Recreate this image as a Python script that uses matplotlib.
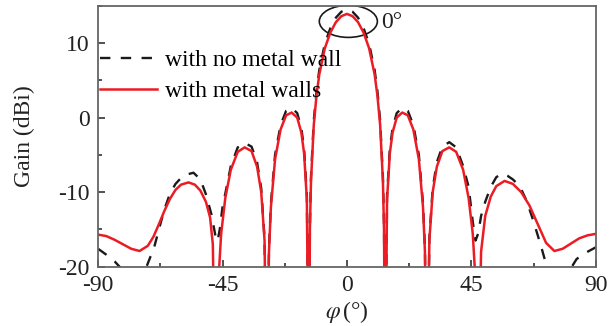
import matplotlib
matplotlib.use("Agg")
import matplotlib.pyplot as plt
from matplotlib.patches import Ellipse
from matplotlib.ticker import MultipleLocator

plt.rcParams['font.family'] = ['Liberation Serif', 'DejaVu Serif']
plt.rcParams['mathtext.fontset'] = 'stix'
plt.rcParams['axes.unicode_minus'] = False

# phi (deg) / gain (dBi); values below -20 are the nulls
phi_red = [-90, -87, -84, -81, -78, -75, -72, -70, -68, -66, -64, -62, -60, -57.3,
           -55, -53, -51, -49.5, -48.5, -47.6, -46.5, -45.5, -44, -42, -39.5, -37,
           -34.5, -32.5, -31, -29.8, -29.0, -28.2, -27.5, -26, -24, -22, -20, -18,
           -16.5, -15.5, -14.5, -13.8, -13.4, -13, -12, -11, -10, -8, -6, -4, -2, 0,
           2, 4, 6, 8, 10, 11, 12, 13, 13.4, 13.8, 14.5, 15.5, 16.5, 18, 20, 22, 24,
           26, 27.5, 28.2, 28.9, 29.8, 31, 32.5, 34.5, 37, 39.5, 42, 44, 45.5, 46.5,
           47.4, 48.5, 50, 52, 54, 57, 60, 63, 66, 69, 72, 75, 78, 81, 84, 87, 90]
gain_red = [-15.7, -15.9, -16.4, -17.0, -17.6, -17.9, -17.2, -16.0, -14.3, -12.5, -10.9,
            -9.7, -9.0, -8.7, -9.0, -9.8, -11.3, -13.4, -17.0, -40, -22.0, -15.6, -10.8,
            -7.0, -4.6, -4.0, -4.5, -6.6, -10.0, -16.5, -40, -18.0, -12.0, -5.6, -1.6,
            0.3, 0.67, 0.0, -2.0, -4.8, -11.0, -40, -15.0, -8.5, -1.0, 3.0, 5.8, 9.3,
            11.4, 12.8, 13.6, 13.9,
            13.6, 12.8, 11.4, 9.3, 5.8, 3.0, -1.0, -8.5, -15.0, -40, -11.0, -4.8, -2.0,
            0.0, 0.67, 0.3, -1.6, -5.6, -12.0, -18.0, -40, -16.5, -10.0, -6.6, -4.5,
            -4.0, -4.6, -7.0, -10.8, -15.6, -22.0, -40, -18.0, -13.2, -10.6, -9.2, -8.5,
            -8.9, -10.0, -11.8, -14.3, -16.8, -17.9, -17.6, -16.9, -16.2, -15.8, -15.6]

phi_black = [-90, -87, -84, -81, -78.5, -77, -75, -73, -71, -70, -68, -66, -64, -62, -60,
             -57.5, -55.5, -53, -51, -49, -47.5, -46.8, -46, -45, -44, -42, -39.5, -37,
             -34.5, -32.5, -31, -29.8, -29.0, -28.2, -27.5, -26, -24, -22, -20, -18,
             -16.5, -15.5, -14.5, -13.8, -13.4, -13, -12, -11, -10, -8, -6, -4, -2, 0,
             2, 4, 6, 8, 10, 11, 12, 13, 13.4, 13.8, 14.5, 15.5, 16.5, 18, 20, 22, 24,
             26, 27.5, 28.2, 28.9, 29.8, 31, 32.5, 34.5, 37, 39.5, 42, 44, 45.5, 46.5,
             47.5, 48.5, 50, 52, 54, 56, 58, 60, 62.5, 65, 67, 69, 70.6, 72.5, 75, 77,
             79, 81, 83, 85, 87.5, 90]
gain_black = [-17.6, -18.4, -19.3, -20.5, -26, -30, -24, -20.5, -18.6, -17.8, -15.0,
              -12.3, -10.2, -8.9, -8.1, -7.6, -7.4, -8.3, -10.3, -13.0, -16.0, -16.6,
              -15.0, -12.0, -10.2, -6.5, -4.0, -3.4, -3.9, -6.0, -9.5, -16.2, -40,
              -17.5, -11.5, -5.0, -1.0, 0.9, 1.3, 0.6, -1.4, -4.2, -10.4, -40, -14.4,
              -7.9, -0.4, 3.6, 6.4, 9.9, 12.0, 13.4, 14.2, 14.5,
              14.2, 13.4, 12.0, 9.9, 6.4, 3.6, -0.4, -7.9, -14.4, -40, -10.4, -4.2,
              -1.4, 0.6, 1.3, 0.9, -1.0, -5.0, -11.5, -17.5, -40, -16.2, -9.5, -6.0,
              -3.9, -3.3, -4.0, -6.5, -9.3, -14.0, -16.5, -15.5, -13.2, -11.3, -9.3,
              -8.0, -7.5, -7.8, -8.3, -9.2, -11.2, -13.4, -15.8, -17.8, -20.3, -25, -30,
              -24, -20.2, -19.0, -18.4, -17.9, -17.4]

fig = plt.figure(figsize=(6.13, 3.26), dpi=100)
ax = fig.add_axes([0.160, 0.182, 0.812, 0.8005])

ax.plot(phi_black, gain_black, color='#1a1a1a', lw=1.7, ls=(0, (4.4, 4.4)),
        label='with no metal wall')
ax.plot(phi_red, gain_red, color='#ec1c24', lw=1.8, label='with metal walls')

ax.add_patch(Ellipse((0.5, 12.9), 21, 4.3, fill=False, ec='#1a1a1a', lw=1.2))
ax.text(12.4, 12.7, '0°', fontsize=17, ha='left', va='center', color='#222222')

ax.set_xlim(-90, 90)
ax.set_ylim(-20, 15)
ax.xaxis.set_major_locator(MultipleLocator(45))
ax.xaxis.set_minor_locator(MultipleLocator(22.5))
ax.yaxis.set_major_locator(MultipleLocator(10))
ax.yaxis.set_minor_locator(MultipleLocator(5))
ax.tick_params(which='both', direction='in', top=False, right=False,
               labelsize=17, colors='#222222')
ax.tick_params(which='major', length=5, width=1.1)
ax.tick_params(which='minor', length=3, width=1.1)
ax.tick_params(axis='x', pad=6)
ax.tick_params(axis='y', pad=6)
for s in ax.spines.values():
    s.set_color('#666666')
    s.set_linewidth(1.3)

ax.set_xlabel(r'$\varphi\,$(°)', fontsize=17, labelpad=2, color='#222222')
ax.set_ylabel('Gain (dBi)', fontsize=17, labelpad=17, color='#222222')

ax.legend(loc='upper left', bbox_to_anchor=(0.0, 0.84), frameon=False, fontsize=17,
          handlelength=2.4, handletextpad=0.35, labelspacing=0.38, borderpad=0,
          borderaxespad=0.1)

fig.savefig('out.png', dpi=100)
